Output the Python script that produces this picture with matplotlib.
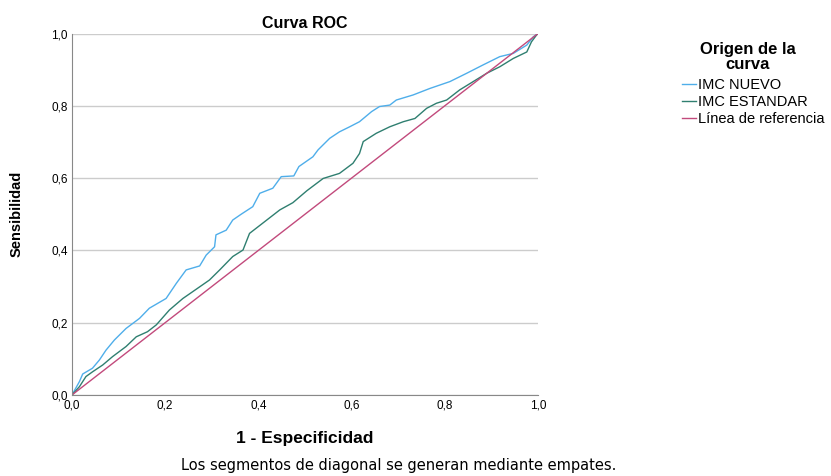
import matplotlib
matplotlib.use("Agg")
import matplotlib.pyplot as plt

plt.rcParams['font.family'] = ['Liberation Sans', 'DejaVu Sans']

# Curva ROC
nuevo_x = [0.0, 0.016, 0.023, 0.044, 0.059, 0.073, 0.091, 0.116, 0.145, 0.166, 0.202, 0.224,
           0.245, 0.274, 0.288, 0.306, 0.309, 0.331, 0.345, 0.363, 0.388, 0.403, 0.431, 0.449,
           0.476, 0.487, 0.517, 0.528, 0.553, 0.574, 0.596, 0.617, 0.643, 0.660, 0.682, 0.696,
           0.732, 0.768, 0.811, 0.847, 0.882, 0.918, 0.947, 0.976, 0.990, 1.0]
nuevo_y = [0.0, 0.037, 0.058, 0.074, 0.097, 0.124, 0.152, 0.184, 0.212, 0.240, 0.267, 0.309,
           0.346, 0.357, 0.387, 0.410, 0.443, 0.456, 0.484, 0.500, 0.521, 0.558, 0.572, 0.604,
           0.606, 0.632, 0.659, 0.678, 0.710, 0.728, 0.742, 0.756, 0.784, 0.798, 0.802, 0.816,
           0.830, 0.848, 0.867, 0.890, 0.913, 0.936, 0.945, 0.968, 0.991, 1.0]

estandar_x = [0.0, 0.016, 0.030, 0.044, 0.066, 0.087, 0.116, 0.138, 0.162, 0.181, 0.209, 0.238,
              0.266, 0.295, 0.317, 0.345, 0.367, 0.381, 0.418, 0.446, 0.474, 0.504, 0.539,
              0.574, 0.603, 0.617, 0.625, 0.653, 0.682, 0.711, 0.736, 0.761, 0.782, 0.804,
              0.832, 0.861, 0.890, 0.918, 0.947, 0.976, 0.986, 0.997, 1.0]
estandar_y = [0.0, 0.023, 0.051, 0.064, 0.083, 0.106, 0.134, 0.161, 0.175, 0.194, 0.235, 0.267,
              0.292, 0.318, 0.346, 0.383, 0.401, 0.447, 0.484, 0.512, 0.532, 0.565, 0.599,
              0.613, 0.641, 0.668, 0.701, 0.724, 0.742, 0.756, 0.765, 0.793, 0.807, 0.816,
              0.844, 0.867, 0.890, 0.908, 0.931, 0.949, 0.977, 0.996, 1.0]

ref_x = [0.0, 1.0]
ref_y = [0.0, 1.0]

ticks = [0.0, 0.2, 0.4, 0.6, 0.8, 1.0]
tick_labels = ['0,0', '0,2', '0,4', '0,6', '0,8', '1,0']

fig = plt.figure(figsize=(8.31, 4.76), dpi=100)
ax = fig.add_axes([0.0866, 0.1702, 0.5608, 0.7594])

ax.plot(nuevo_x, nuevo_y, color='#4FAEEA', lw=1.0, label='IMC NUEVO')
ax.plot(estandar_x, estandar_y, color='#2F7F70', lw=1.0, label='IMC ESTANDAR')
ax.plot(ref_x, ref_y, color='#C24A7C', lw=1.0, label='Línea de referencia')

ax.set_xlim(0, 1)
ax.set_ylim(0, 1)
ax.set_xticks(ticks)
ax.set_xticklabels(tick_labels)
ax.set_yticks(ticks)
ax.set_yticklabels(tick_labels)
ax.tick_params(length=0, labelsize=8.5, pad=3)
ax.yaxis.grid(True, color='#CCCCCC', lw=1.0)
ax.set_axisbelow(True)
for s in ['top', 'right']:
    ax.spines[s].set_visible(False)
for s in ['left', 'bottom']:
    ax.spines[s].set_color('#888888')

ax.set_title('Curva ROC', fontsize=11.5, fontweight='bold', pad=4)
ax.set_xlabel('1 - Especificidad', fontsize=12.5, fontweight='bold', labelpad=14)
ax.set_ylabel('Sensibilidad', fontsize=10.5, fontweight='bold', labelpad=20)

# legend title placed separately, entries below it
fig.text(0.9, 0.912, 'Origen de la\ncurva', ha='center', va='top', fontsize=12,
         fontweight='bold', multialignment='center', linespacing=1.0)
leg = fig.legend(loc='upper left', bbox_to_anchor=(0.821, 0.836), frameon=False,
                 fontsize=10.5, handlelength=0.95, handletextpad=0.12,
                 labelspacing=0.2, borderaxespad=0, borderpad=0)

fig.text(0.48, 0.007, 'Los segmentos de diagonal se generan mediante empates.',
         ha='center', va='bottom', fontsize=10.5, family='DejaVu Sans')

fig.savefig('out.png', dpi=100)
